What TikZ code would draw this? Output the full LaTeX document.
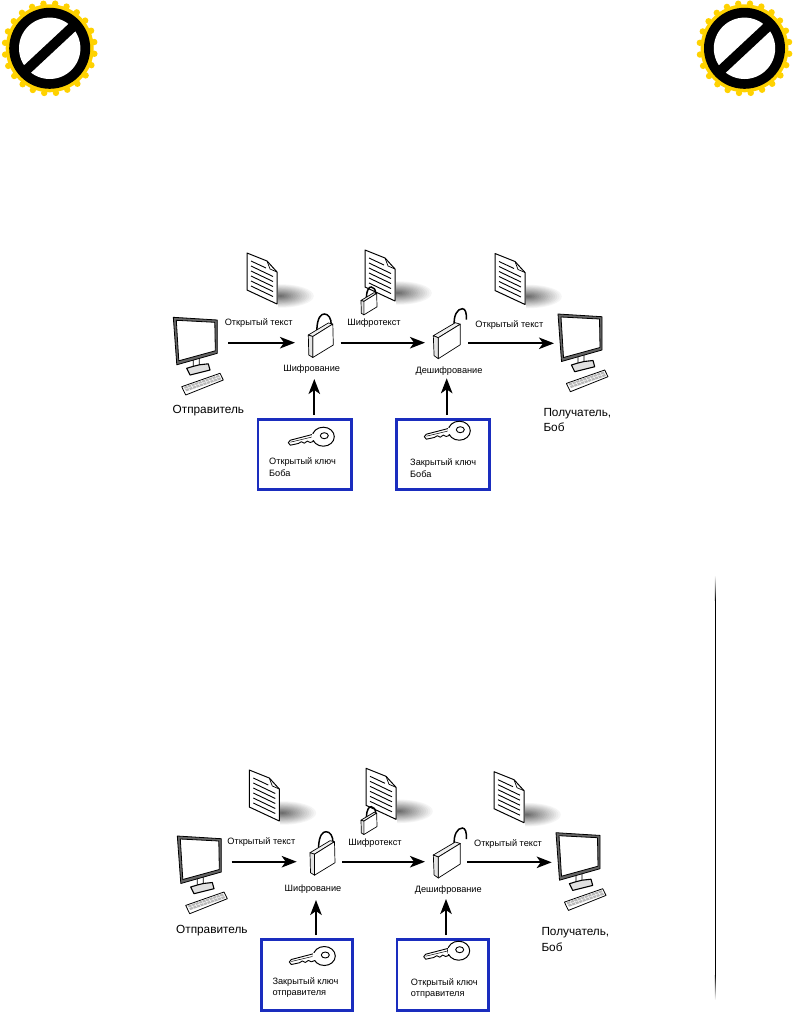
\documentclass[tikz,border=0pt]{standalone}
\usepackage{fontspec}
\setmainfont{Liberation Sans}
\usetikzlibrary{arrows.meta,calc}
\definecolor{boxblue}{HTML}{1A2DBE}
\definecolor{sealyellow}{HTML}{FFD200}
\tikzset{
  x=1pt,y=-1pt,
  lbl/.style={font=\fontsize{9.2}{11}\selectfont,text=black,inner sep=0pt},
  lblleft/.style={lbl,anchor=west,align=left},
  who/.style={font=\fontsize{11.8}{14}\selectfont,text=black,inner sep=0pt,anchor=west},
  flow/.style={line width=2pt,-{Stealth[length=15pt,width=11.5pt,inset=4pt]}},
  keybox/.style={draw=boxblue,line width=2.8pt,fill=white},
  pics/doc/.style={code={
    \foreach \i in {0,...,15}{
      \pgfmathsetmacro{\k}{1-\i/16}
      \pgfmathsetmacro{\g}{\i*3.8}
      \fill[black!\g] (33,43) ellipse [x radius=36*\k,y radius=12.5*\k];
    }
    \draw[fill=white,draw=white,line width=0pt] (-6,25)--(30,25)--(30,60)--(-6,60)--cycle;
    \draw[fill=white,line width=1pt,line join=round] (0,0)--(20,8)--(30,19)--(30,51)--(0,37)--cycle;
    \draw[line width=.7pt] (20,8)--(23,16)--(30,19);
    \draw[line width=.9pt] (4,8)--(19,15);
    \foreach \y in {13,18,23,28,33}{\draw[line width=.9pt] (4,\y)--(26,\y+10.5);}
  }},
  pics/closedlock/.style={code={
    \draw[line width=1.5pt,fill=none] (8.5,16) .. controls (9,3) and (13,0) .. (16,0)
       .. controls (20,0) and (23,4) .. (23,11);
    \draw[fill=black!6,line width=.7pt,line join=round] (0,21)--(20,9)--(24.5,10)--(4.5,22.5)--cycle;
    \draw[fill=white,line width=.7pt,line join=round] (4.5,22.5)--(24.5,10)--(25,31)--(4.5,43.5)--cycle;
    \draw[fill=black!10,line width=.7pt,line join=round] (0,21)--(4.5,22.5)--(4.5,43.5)--(.5,41)--cycle;
  }},
  pics/openlock/.style={code={
    \draw[line width=1.5pt] (21,19) .. controls (20,9) and (24,2) .. (29,2)
       .. controls (32,2) and (33.5,6) .. (33,13);
    \draw[fill=black!6,line width=.7pt,line join=round] (0,29)--(22,16)--(27,17.5)--(5,31)--cycle;
    \draw[fill=white,line width=.7pt,line join=round] (5,31)--(27,17.5)--(27,38)--(5,52)--cycle;
    \draw[fill=black!10,line width=.7pt,line join=round] (0,29)--(5,31)--(5,52)--(.8,49)--cycle;
  }},
  pics/keyshape/.style={code={
    \draw[fill=white,line width=.9pt,line join=round]
      (-8,-3)--(-33,3.5)--(-35,6)--(-33,8.5)--(-25,6.8)--(-22,5)--(-19,6.5)--(-16,4.4)--(-13,5.8)--(-8,4)--cycle;
    \draw[line width=.5pt] (-33,5.5)--(-12,.5);
    \draw[fill=white,line width=1pt] (0,0) ellipse [x radius=11,y radius=9.5];
    \draw[fill=white,line width=.9pt] (1,-1) ellipse [x radius=4,y radius=3];
    \fill[white] (-11,-2.6) rectangle (-8,3.6);
  }},
  pics/monitor/.style={code={
    \draw[fill=white,line width=.8pt,line join=round] (20,42)--(26,40)--(26,49)--(20,51)--cycle;
    \draw[fill=black!12,line width=1.1pt,line join=round] (13.4,51)--(20,49)--(26,47.5)--(35,46.5)--(36.7,52.7)--(16.7,57.7)--cycle;
    \draw[fill=black!60,draw=black,even odd rule,line width=.8pt,line join=round]
      (0,0)--(44,2.7)--(44,36)--(3.5,47.5)--cycle (3,3)--(41.5,5)--(42,33.5)--(5.5,43.5)--cycle;
    \draw[fill=white,line width=.8pt,line join=round] (8.4,69.4)--(46.7,56)--(50,62.7)--(12.4,77.7)--cycle;
    \fill[black!28] (10.5,69.5)--(45.5,57.5)--(48,62)--(13,74)--cycle;
    \foreach \t in {.1,.2,...,.9}{\draw[white,line width=.4pt] ($(10.5,69.5)!\t!(45.5,57.5)$)--($(13,74)!\t!(48,62)$);}
    \draw[white,line width=.4pt] (11.7,71.7)--(46.7,59.7);
  }},
  pics/seal/.style={code={
    \foreach \a in {0,15,...,345}{
      \fill[sealyellow] (\a+7:45) circle (3.2);
    }
    \fill[sealyellow] (0,0) circle (44);
    \fill[black] (0,0) circle (40.5);
    \fill[white] (0,0) circle (30.7);
    \draw[black,line width=10pt] (-43:32)--(137:32);
  }},
}
\begin{document}
\begin{tikzpicture}
\useasboundingbox (0,0) rectangle (794,1020);
\fill[white] (0,0) rectangle (794,1020);

% seals
\path (49.7,48.3) pic {seal};
\path (744.5,48.3) pic {seal};

% margin line
\coordinate (ruleA) at (715.4,600);
\coordinate (ruleB) at (715.4,975);
\draw[line width=1pt] (ruleA)--(ruleB);
\shade[top color=white,bottom color=black] (714.9,575) rectangle (715.9,600);
\shade[top color=black,bottom color=white] (714.9,975) rectangle (715.9,1000);

% ---------- upper diagram ----------
\path (247,253) pic {doc};
\path (365,250) pic {doc};
\path (495,253.5) pic {doc};
\path (361,287) pic[scale=.64] {closedlock};
\path (308.3,314) pic {closedlock};
\path (433.3,306.7) pic {openlock};
\path (173.3,317.3) pic {monitor};
\path (558,314) pic {monitor};

\node[keybox,minimum width=93.5pt,minimum height=69.5pt,inner sep=0pt] (boxA) at (304.7,454.5) {};
\node[keybox,minimum width=93.5pt,minimum height=69.5pt,inner sep=0pt] (boxB) at (443,454.5) {};
\path (323.3,436.7) pic {keyshape};
\path (459.3,430.7) pic {keyshape};

\node[lbl] (t1) at (258.7,323.3) {Открытый текст};
\node[lbl] (t2) at (374,323.3) {Шифротекст};
\node[lbl] (t3) at (509.3,325) {Открытый текст};
\node[lbl] (t4) at (311.7,369.3) {Шифрование};
\node[lbl] (t5) at (449,370.7) {Дешифрование};
\node[who] (t6) at (172.5,410.7) {Отправитель};
\node[who] (t7) at (543.3,413.3) {Получатель,};
\node[who] (t8) at (543.3,427.7) {Боб};
\node[lblleft] (t9) at (269,462.3) {Открытый ключ};
\node[lblleft] (t10) at (269,473.3) {Боба};
\node[lblleft] (t11) at (410,463.3) {Закрытый ключ};
\node[lblleft] (t12) at (410,474.3) {Боба};

\coordinate (a1) at (228.3,342.7); \coordinate (a2) at (295,342.7);
\coordinate (a3) at (340.7,342.7); \coordinate (a4) at (425,342.7);
\coordinate (a5) at (468.3,343.3); \coordinate (a6) at (554,343.3);
\coordinate (a7) at (314.3,415); \coordinate (a8) at (314.3,379);
\coordinate (a9) at (446.7,415); \coordinate (a10) at (446.7,378.3);
\draw[flow] (a1)--(a2);
\draw[flow] (a3)--(a4);
\draw[flow] (a5)--(a6);
\draw[flow] (a7)--(a8);
\draw[flow] (a9)--(a10);

% ---------- lower diagram ----------
\path (249.3,770) pic {doc};
\path (366,768.3) pic {doc};
\path (494,771.7) pic {doc};
\path (361,806.7) pic[scale=.64] {closedlock};
\path (310,831.7) pic {closedlock};
\path (433.3,826) pic {openlock};
\path (177.3,836) pic {monitor};
\path (556,832.7) pic {monitor};

\node[keybox,minimum width=91pt,minimum height=70.5pt,inner sep=0pt] (boxC) at (307,975) {};
\node[keybox,minimum width=91.5pt,minimum height=70.5pt,inner sep=0pt] (boxD) at (442.8,975) {};
\path (324.3,956) pic {keyshape};
\path (458.7,950.7) pic {keyshape};

\node[lbl] (u1) at (261.3,842.3) {Открытый текст};
\node[lbl] (u2) at (375,842.7) {Шифротекст};
\node[lbl] (u3) at (508,844) {Открытый текст};
\node[lbl] (u4) at (313,889) {Шифрование};
\node[lbl] (u5) at (448.3,890.3) {Дешифрование};
\node[who] (u6) at (176,930.7) {Отправитель};
\node[who] (u7) at (541.3,932.3) {Получатель,};
\node[who] (u8) at (541.3,947.7) {Боб};
\node[lblleft] (u9) at (272.3,982.3) {Закрытый ключ};
\node[lblleft] (u10) at (272.3,994.3) {отправителя};
\node[lblleft] (u11) at (410.7,983.3) {Открытый ключ};
\node[lblleft] (u12) at (410.7,995) {отправителя};

\coordinate (b1) at (231.7,861.7); \coordinate (b2) at (296.7,861.7);
\coordinate (b3) at (342.3,861.7); \coordinate (b4) at (425,861.7);
\coordinate (b5) at (467.3,862.3); \coordinate (b6) at (551.7,862.3);
\coordinate (b7) at (316,935); \coordinate (b8) at (316,900);
\coordinate (b9) at (446,935); \coordinate (b10) at (446,899);
\draw[flow] (b1)--(b2);
\draw[flow] (b3)--(b4);
\draw[flow] (b5)--(b6);
\draw[flow] (b7)--(b8);
\draw[flow] (b9)--(b10);
\end{tikzpicture}
\end{document}
